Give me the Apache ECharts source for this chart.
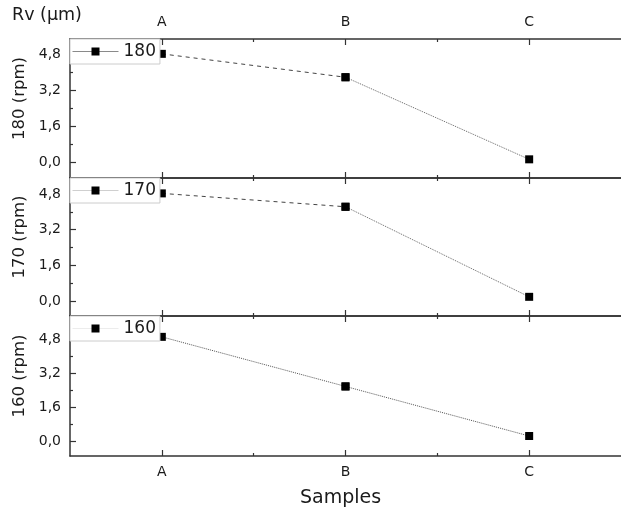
<!DOCTYPE html>
<html>
<head>
<meta charset="utf-8">
<script src="https://cdn.jsdelivr.net/npm/echarts@6/dist/echarts.min.js"></script>
<style>html,body{margin:0;padding:0;background:#fff;}#c{width:621px;height:513px;}</style>
</head>
<body>
<div id="c"></div>
<script>
// ---- data ----
const categories = ['A', 'B', 'C'];
const speeds = ['180', '170', '160'];
const values180 = [4.82, 3.78, 0.13];
const values170 = [4.83, 4.23, 0.19];
const values160 = [4.93, 2.60, 0.27];
const yTickValues = [0, 1.6, 3.2, 4.8];
const yMinorTickValues = [0.8, 2.4, 4.0];
const xTickValues = [1, 2, 3];
const xMinorTickValues = [1.5, 2.5];
const yTitle = 'Rv (µm)';
const xTitle = 'Samples';

// ---- layout / style ----
const FONT = 'DejaVu Sans';
const panels = [
  { top: 39, height: 139, ymin: -0.70, ymax: 5.48, values: values180,
    seg1: { type: [4, 4], color: '#444', width: 1 }, seg2: { type: [1, 1], color: '#666', width: 1 }, legendLine: '#8a8a8a' },
  { top: 178, height: 138, ymin: -0.67, ymax: 5.52, values: values170,
    seg1: { type: [4, 4], color: '#444', width: 1 }, seg2: { type: [1, 1], color: '#666', width: 1 }, legendLine: '#cfcfcf' },
  { top: 316, height: 140, ymin: -0.67, ymax: 5.91, values: values160,
    seg1: { type: [1, 1], color: '#555', width: 1 }, seg2: { type: [1, 1], color: '#555', width: 1 }, legendLine: '#ececec' }
];
const LEFT = 70, WIDTH = 561;
const axisColor = '#333';
const textColor = '#1a1a1a';

const grid = [], xAxis = [], yAxis = [], series = [], legend = [];
panels.forEach((p, i) => {
  grid[i] = { left: LEFT, width: WIDTH, top: p.top, height: p.height };
  grid[i + 3] = { left: LEFT, width: WIDTH, top: p.top, height: p.height };
});
panels.forEach((p, i) => {
  const baseX = {
    type: 'value', min: 0.5, max: 3.5, splitLine: { show: false },
    axisLine: { show: true, onZero: false, lineStyle: { color: axisColor, width: 1.5 } },
    axisTick: { show: true, inside: true, length: 6, customValues: xTickValues, lineStyle: { color: axisColor, width: 1.2 } }
  };
  const lbl = (show, margin) => ({
    show: show, customValues: xTickValues, margin: margin,
    fontFamily: FONT, fontSize: 14, color: textColor,
    formatter: v => categories[Math.round(v) - 1] || ''
  });
  const bottom = Object.assign({}, baseX, { gridIndex: i, position: 'bottom', axisLabel: lbl(i === 2, 9) });
  if (i === 2) {
    bottom.name = xTitle; bottom.nameLocation = 'middle'; bottom.nameGap = 33;
    bottom.nameTextStyle = { fontFamily: FONT, fontSize: 19, color: textColor, padding: [0, 10, 0, 0] };
  }
  xAxis.push(bottom);
  xAxis.push(Object.assign({}, baseX, { gridIndex: i, position: 'top', axisLabel: lbl(i === 0, 10) }));
  const minorX = pos => ({
    type: 'value', min: 0.5, max: 3.5, gridIndex: i + 3, position: pos, splitLine: { show: false },
    axisLine: { show: false, onZero: false }, axisLabel: { show: false },
    axisTick: { show: true, inside: true, length: 3, customValues: xMinorTickValues, lineStyle: { color: axisColor, width: 1.2 } }
  });
  xAxis.push(minorX('bottom'));
  xAxis.push(minorX('top'));

  yAxis.push({
    type: 'value', gridIndex: i, min: p.ymin, max: p.ymax, position: 'left', splitLine: { show: false },
    axisLine: { show: true, onZero: false, lineStyle: { color: axisColor, width: 1.5 } },
    axisTick: { show: true, inside: true, length: 6, customValues: yTickValues, lineStyle: { color: axisColor, width: 1.2 } },
    axisLabel: { customValues: yTickValues, margin: 9, fontFamily: FONT, fontSize: 14, color: textColor,
      formatter: v => v.toFixed(1).replace('.', ',') },
    name: speeds[i] + ' (rpm)', nameLocation: 'middle', nameGap: 39,
    nameTextStyle: { fontFamily: FONT, fontSize: 16.5, color: textColor, padding: [0, 0, 0, 20] }
  });
  yAxis.push({
    type: 'value', gridIndex: i + 3, min: p.ymin, max: p.ymax, position: 'left', splitLine: { show: false },
    axisLine: { show: false, onZero: false }, axisLabel: { show: false },
    axisTick: { show: true, inside: true, length: 3, customValues: yMinorTickValues, lineStyle: { color: axisColor, width: 1.2 } }
  });
});

panels.forEach((p, i) => {
  const pts = p.values.map((v, k) => [xTickValues[k], v]);
  const common = {
    type: 'line', name: speeds[i], xAxisIndex: 4 * i, yAxisIndex: 2 * i,
    symbol: 'rect', symbolSize: 8, itemStyle: { color: '#000' }, z: 3, animation: false
  };
  series.push(Object.assign({}, common, { data: pts.slice(0, 2), lineStyle: p.seg1 }));
  series.push(Object.assign({}, common, { data: pts.slice(1, 3), lineStyle: p.seg2 }));
  legend.push({
    data: [speeds[i]], left: LEFT, top: p.top, orient: 'vertical',
    padding: [4, 4, 4, 2], itemWidth: 46, itemHeight: 10,
    backgroundColor: '#fff', borderColor: '#cccccc', borderWidth: 1,
    textStyle: { fontFamily: FONT, fontSize: 17, color: textColor },
    lineStyle: { type: 'solid', color: p.legendLine, width: 1 },
    itemStyle: { color: '#000' },
    selectedMode: false
  });
});

const chart = echarts.init(document.getElementById('c'), null, { renderer: 'canvas' });
chart.setOption({
  animation: false,
  backgroundColor: '#fff',
  title: { text: yTitle, left: 12, top: 6, padding: 0, textStyle: { fontFamily: FONT, fontSize: 17.5, fontWeight: 'normal', color: textColor } },
  grid, xAxis, yAxis, series, legend
});
</script>
</body>
</html>
